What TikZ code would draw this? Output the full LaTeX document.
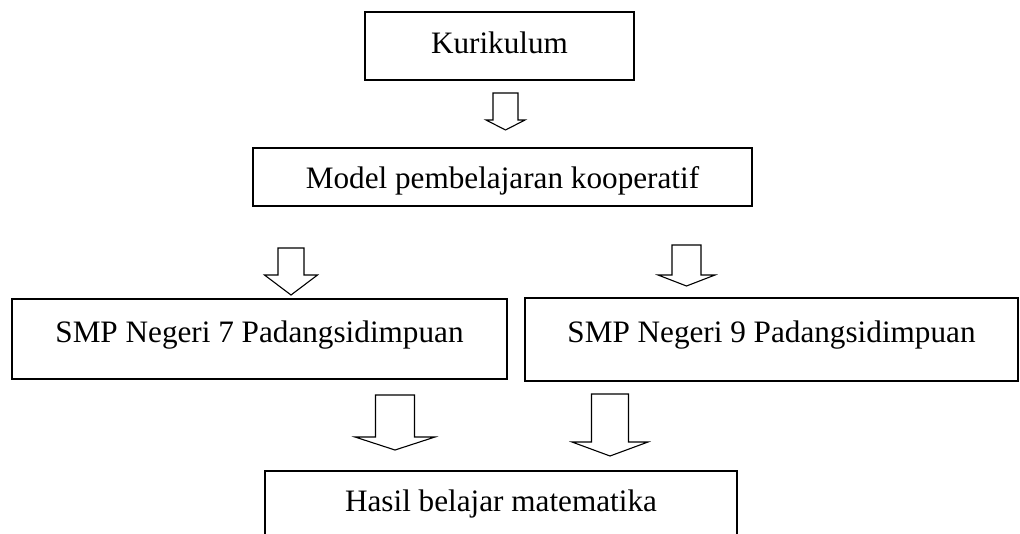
\documentclass[tikz,border=0pt]{standalone}
\usepackage{fontspec}
\setmainfont{Liberation Serif}
\usepackage{tikz}
\usetikzlibrary{positioning,calc}

% hollow block arrow: centre x, top y, half shaft, half head, head base y, tip y
\newcommand{\hollowarrow}[6]{%
  \draw[arrowline] ({#1-#3},#2) -- ({#1+#3},#2) -- ({#1+#3},#5) -- ({#1+#4},#5)
    -- (#1,#6) -- ({#1-#4},#5) -- ({#1-#3},#5) -- cycle;}

\tikzset{
  box/.style={draw, line width=1.4pt, inner sep=0pt, text height=24pt,
    font=\fontsize{31.2}{36}\selectfont},
  arrowline/.style={draw, line width=1.1pt, line join=miter, fill=white}
}

\begin{document}
\begin{tikzpicture}[x=1pt, y=-1pt]
    \useasboundingbox (0,0) rectangle (1020,533);
    % boxes
    \node[box, minimum width=269pt, minimum height=68pt, text depth=10pt]
      (kurikulum) at (499.5,46) {Kurikulum};
    \node[box, minimum width=499pt, minimum height=58pt, text depth=2pt]
      (model) at (502.5,177) {Model pembelajaran kooperatif};
    \node[box, minimum width=495pt, minimum height=80pt, text depth=18pt]
      (smp7) at (259.5,339) {SMP Negeri 7 Padangsidimpuan};
    \node[box, minimum width=493pt, minimum height=83pt, text depth=19pt]
      (smp9) at (771.5,339.5) {SMP Negeri 9 Padangsidimpuan};
    \node[box, minimum width=472pt, minimum height=80pt, text depth=24pt]
      (hasil) at (501,511) {Hasil belajar matematika};
    % block arrows
    \hollowarrow{505.5}{93}{12.5}{19.5}{120}{130}
    \hollowarrow{291}{248}{13}{26.5}{275}{295}
    \hollowarrow{686.5}{245}{14.5}{28.5}{275}{286}
    \hollowarrow{395}{395}{19.5}{40}{437}{450}
    \hollowarrow{610}{394}{18.5}{38}{442}{456}
\end{tikzpicture}
\end{document}
